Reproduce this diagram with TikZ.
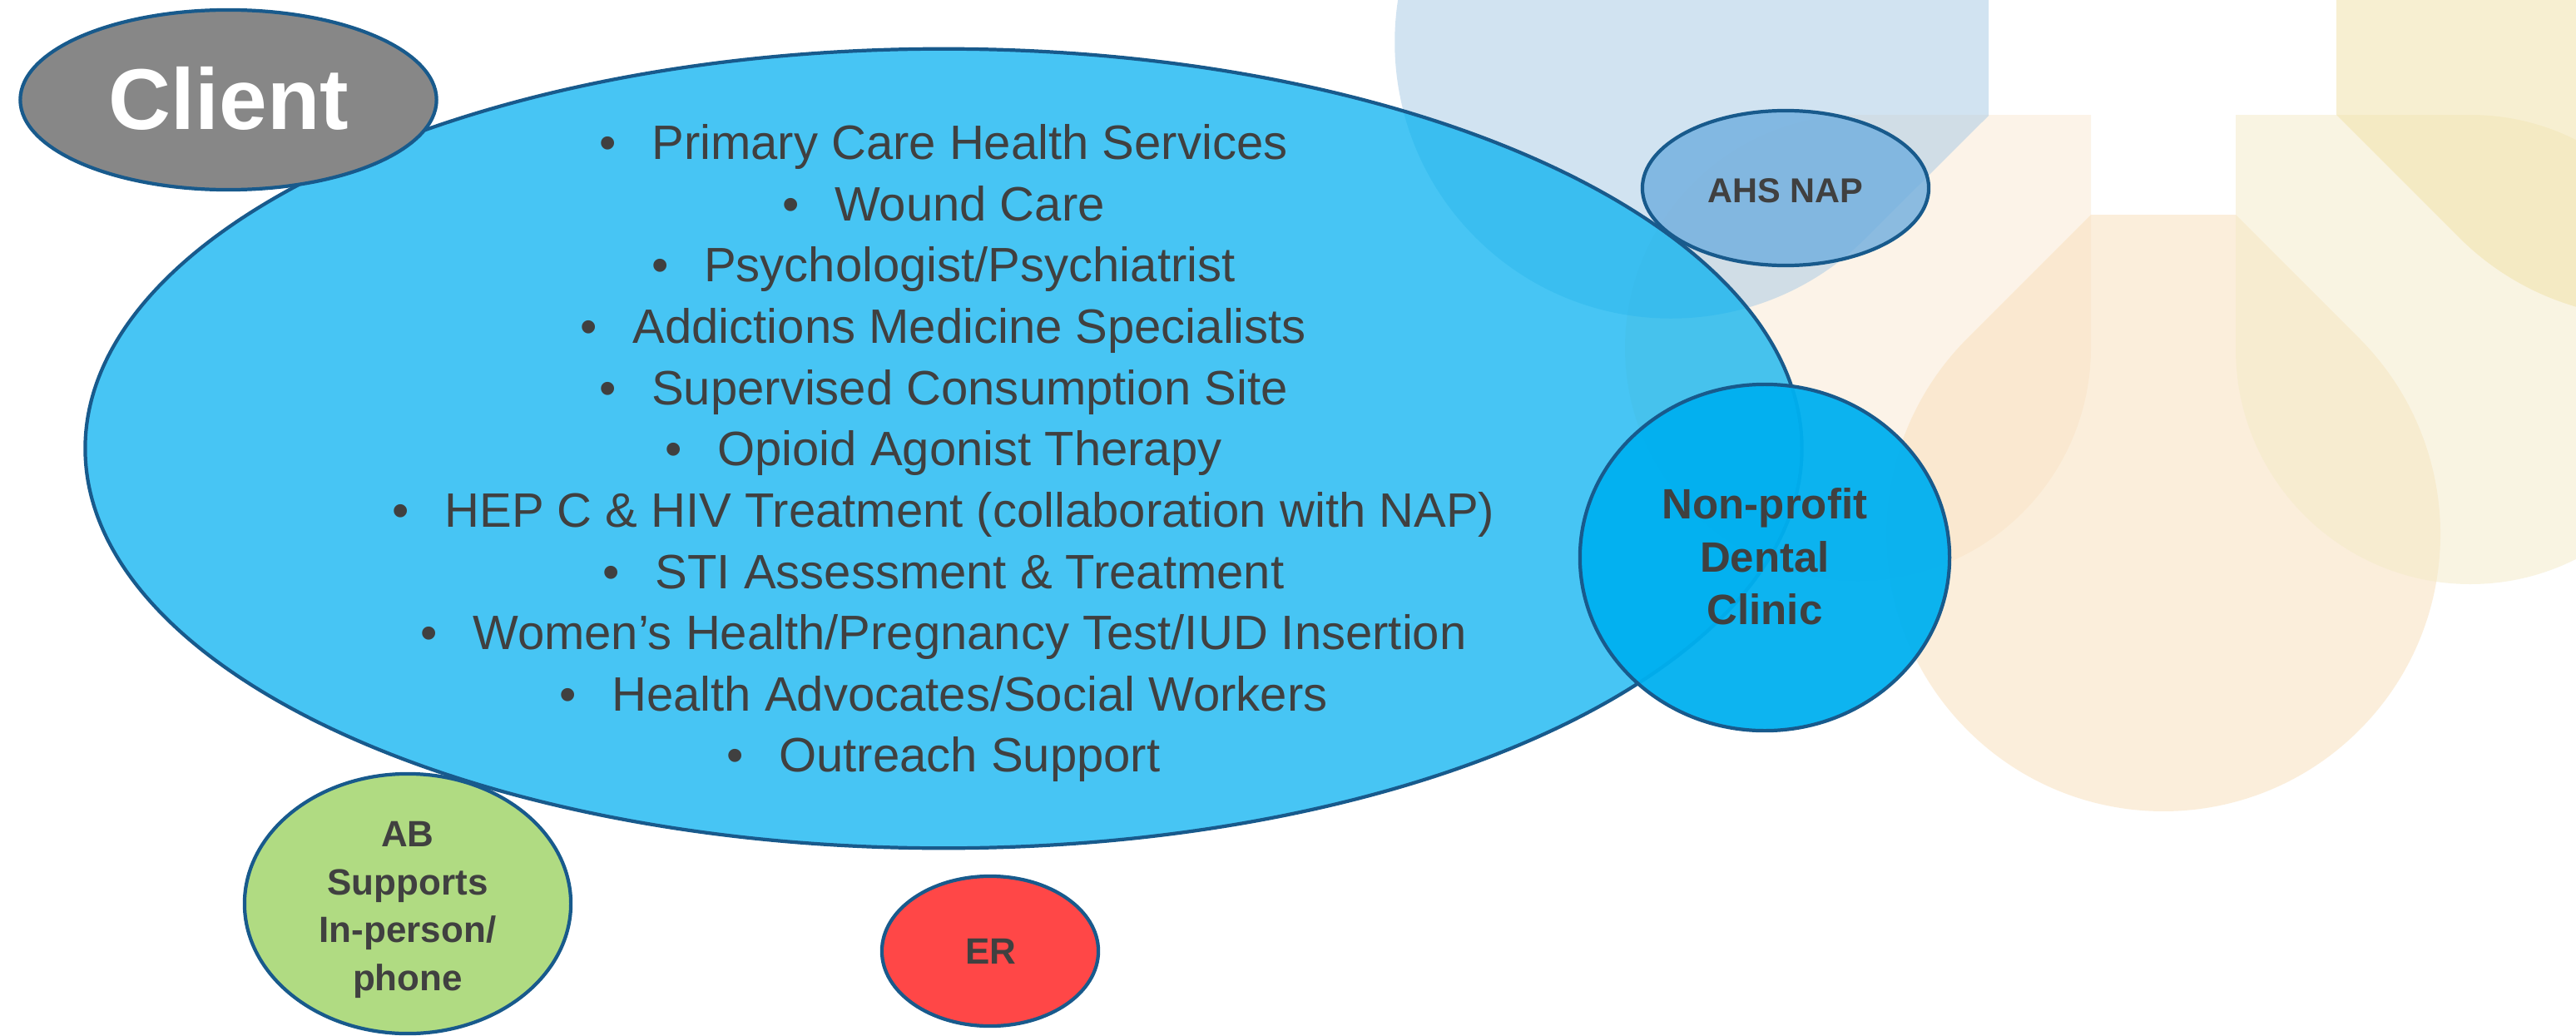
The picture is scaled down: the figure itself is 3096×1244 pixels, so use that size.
\documentclass[tikz,border=0pt]{standalone}
\usepackage{fontspec}
\setmainfont{Liberation Sans}
\usetikzlibrary{shapes.geometric}
\definecolor{edgeblue}{RGB}{24,90,140}
\definecolor{txtgray}{RGB}{64,64,64}
\definecolor{bgblue}{RGB}{165,201,229}
\definecolor{bgpeachL}{RGB}{251,233,211}
\definecolor{bgpeach}{RGB}{249,223,185}
\definecolor{bgcream}{RGB}{245,235,199}
\definecolor{bgyellow}{RGB}{241,225,165}
\definecolor{mainblue}{RGB}{0,176,240}
\definecolor{clientgray}{RGB}{135,135,135}
\definecolor{napblue}{RGB}{111,174,223}
\definecolor{abgreen}{RGB}{176,219,130}
\definecolor{erred}{RGB}{255,71,71}
\newcommand{\bulitem}[1]{•\hspace{12.1pt}#1}
\begin{document}
\begin{tikzpicture}[x=0.01cm,y=0.01cm,
  bubble/.style={ellipse, draw=edgeblue, line width=1.2pt, inner sep=0pt},
  petal/.style={fill opacity=0.5},
  listline/.style={anchor=base, text=txtgray, font=\fontsize{16.5}{20}\selectfont, inner sep=0pt},
  lbl/.style={anchor=base, text=txtgray, font=\bfseries\fontsize{12.5}{15}\selectfont, inner sep=0pt}]
\useasboundingbox (0,0) rectangle (3096,1244);
\fill[white] (0,0) rectangle (3096,1244);
% background petals
\begin{scope}
\clip (0,0) rectangle (3096,1244);
\fill[bgpeachL, petal] (2513,1106) -- (2233,1106) arc[start angle=90, end angle=360, radius=280] -- cycle;
\fill[bgpeach, petal] (2513,986) -- (2687,986) -- (2835.5,837.5) arc[start angle=45, end angle=-225, radius=333] -- cycle;
\fill[bgcream, petal] (2687,1106) -- (2687,824) arc[start angle=180, end angle=450, radius=282] -- cycle;
\fill[bgyellow, petal] (2808,1106) -- (2955,959) arc[start angle=225, end angle=495, radius=331] -- (2808,1280) -- cycle;
\fill[bgblue, petal] (2390,1105) -- (2390,1281) -- (2243,1428) arc[start angle=45, end angle=315, radius=332] -- cycle;
\end{scope}
% bubbles
\node[bubble, fill=mainblue, fill opacity=0.72, minimum width=20.62cm, minimum height=9.6cm] (main) at (1134,705) {};
\node[bubble, fill=clientgray, minimum width=5.0cm, minimum height=2.16cm] (client) at (274.5,1124) {};
\node[bubble, fill=napblue, fill opacity=0.8, minimum width=3.44cm, minimum height=1.86cm] (nap) at (2146,1018) {};
\node[bubble, fill=mainblue, fill opacity=0.95, minimum width=4.44cm, minimum height=4.16cm] (dental) at (2121,574) {};
\node[bubble, fill=abgreen, minimum width=3.92cm, minimum height=3.12cm] (ab) at (490,158) {};
\node[bubble, fill=erred, minimum width=2.6cm, minimum height=1.8cm] (er) at (1190,101) {};
% texts
\node[anchor=base, text=white, font=\bfseries\fontsize{29.5}{34}\selectfont, inner sep=0pt] (clientlbl) at (275,1089) {Client};
\node[listline] (l1) at (1134,1053) {\bulitem{Primary Care Health Services}};
\node[listline] (l2) at (1134,979) {\bulitem{Wound Care}};
\node[listline] (l3) at (1134,906) {\bulitem{Psychologist/Psychiatrist}};
\node[listline] (l4) at (1134,832) {\bulitem{Addictions Medicine Specialists}};
\node[listline] (l5) at (1134,758) {\bulitem{Supervised Consumption Site}};
\node[listline] (l6) at (1134,685) {\bulitem{Opioid Agonist Therapy}};
\node[listline] (l7) at (1134,611) {\bulitem{HEP C \& HIV Treatment (collaboration with NAP)}};
\node[listline] (l8) at (1134,537) {\bulitem{STI Assessment \& Treatment}};
\node[listline] (l9) at (1134,464) {\bulitem{Women’s Health/Pregnancy Test/IUD Insertion}};
\node[listline] (l10) at (1134,390) {\bulitem{Health Advocates/Social Workers}};
\node[listline] (l11) at (1134,317) {\bulitem{Outreach Support}};
\node[lbl, font=\bfseries\fontsize{11.8}{14}\selectfont] (naplbl) at (2146,1001) {AHS NAP};
\node[lbl, font=\bfseries\fontsize{14.5}{17}\selectfont] (dental1) at (2121,621) {Non-profit};
\node[lbl, font=\bfseries\fontsize{14.5}{17}\selectfont] (dental2) at (2121,557) {Dental};
\node[lbl, font=\bfseries\fontsize{14.5}{17}\selectfont] (dental3) at (2121,494) {Clinic};
\node[lbl] (ab1) at (490,227) {AB};
\node[lbl] (ab2) at (490,169) {Supports};
\node[lbl] (ab3) at (490,112) {In-person/};
\node[lbl] (ab4) at (490,54) {phone};
\node[lbl] (erlbl) at (1191,86) {ER};
\end{tikzpicture}
\end{document}
